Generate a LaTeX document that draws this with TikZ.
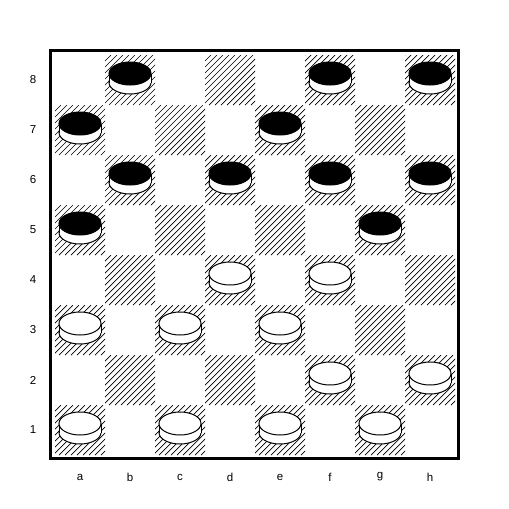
\documentclass[tikz,border=0pt]{standalone}
\usepackage{fontspec}
\setmainfont{Liberation Sans}
\newcommand\checker[3]{%
  \pgfmathsetmacro\cx{80+50*#1}%
  \pgfmathsetmacro\cy{80+50*#2}%
  \fill[white] (\cx,\cy+2.5) ellipse [x radius=21, y radius=11.5];
  \draw[pc] (\cx,\cy+2.5) ellipse [x radius=21, y radius=11.5];
  \fill[white] (\cx-21,\cy-6.5) rectangle (\cx+21,\cy+2.5);
  \draw[pc] (\cx-21,\cy-6.5) -- (\cx-21,\cy+2.5);
  \draw[pc] (\cx+21,\cy-6.5) -- (\cx+21,\cy+2.5);
  \draw[pc, fill=#3] (\cx,\cy-6.5) ellipse [x radius=21, y radius=11.5];
}
\begin{document}
\begin{tikzpicture}[x=1pt,y=-1pt,
  hatch/.style={line width=0.7pt, black},
  pc/.style={line width=1pt, black},
  lbl/.style={font=\fontsize{11.5}{12}\selectfont, inner sep=0pt}]
\useasboundingbox (0,0) rectangle (509,509);
\fill[white] (0,0) rectangle (509,509);
\foreach \c in {0,...,7}{\foreach \r in {0,...,7}{
  \pgfmathtruncatemacro\odd{mod(\c+\r,2)}
  \ifnum\odd=1
  \begin{scope}
    \clip (55+50*\c,55+50*\r) rectangle ++(50,50);
    \foreach \k in {0,6,...,102} \draw[hatch] (5+50*\c+\k,105+50*\r) -- ++(50,-50);
  \end{scope}
  \fi}}
\draw[line width=3pt] (50.5,50.5) rectangle (458.5,458.5);
% black pieces
\checker{1}{0}{black}\checker{5}{0}{black}\checker{7}{0}{black}
\checker{0}{1}{black}\checker{4}{1}{black}
\checker{1}{2}{black}\checker{3}{2}{black}\checker{5}{2}{black}\checker{7}{2}{black}
\checker{0}{3}{black}\checker{6}{3}{black}
% white pieces
\checker{3}{4}{white}\checker{5}{4}{white}
\checker{0}{5}{white}\checker{2}{5}{white}\checker{4}{5}{white}
\checker{5}{6}{white}\checker{7}{6}{white}
\checker{0}{7}{white}\checker{2}{7}{white}\checker{4}{7}{white}\checker{6}{7}{white}
% labels
\foreach \n [count=\i from 0] in {8,7,6,5,4,3,2,1}
  \node[lbl] (rank\n) at (33,80+50*\i) {\n};
\foreach \f [count=\i from 0] in {a,b,c,d,e,f,g,h}
  \node[lbl] (file\f) at (80+50*\i,477) {\f};
\end{tikzpicture}
\end{document}
